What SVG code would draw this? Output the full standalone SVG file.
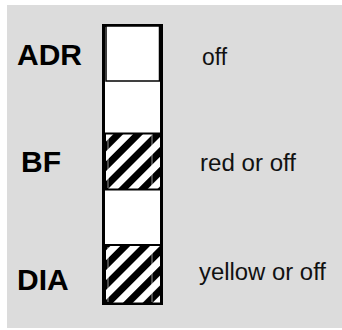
<svg xmlns="http://www.w3.org/2000/svg" width="342" height="330" viewBox="0 0 342 330">
<style>
.lbl{font-family:"Liberation Sans",Arial,sans-serif;font-weight:bold;font-size:30px;fill:#000}
.st{font-family:"Liberation Sans",Arial,sans-serif;font-size:23px;fill:#111}
.led{stroke:#000;stroke-width:2}
</style>
<defs>
<pattern id="hatch" patternUnits="userSpaceOnUse" width="14" height="14" patternTransform="rotate(45)">
<rect width="14" height="14" fill="#000"/>
<rect x="0" width="7" height="14" fill="#fff"/>
</pattern>
</defs>
<rect x="0" y="0" width="342" height="330" fill="#fff"/>
<rect x="7" y="5" width="335" height="323" fill="#dcdcdc"/>
<g id="column">
<rect x="103.5" y="25.5" width="58" height="278" fill="#fff" stroke="#000" stroke-width="3"/>
</g>
<g id="adr">
<rect x="106" y="26" width="53.5" height="55" fill="#fff" stroke="#000" stroke-width="1.5"/>
<rect x="159" y="25" width="3.5" height="56" fill="#000"/>
<text class="lbl" x="17" y="64.5">ADR</text>
<text class="st" x="202" y="65" textLength="25" lengthAdjust="spacingAndGlyphs">off</text>
</g>
<g id="bf">
<rect class="led" x="105" y="133.5" width="56" height="56" fill="url(#hatch)"/>
<line x1="108" y1="135" x2="108" y2="188" stroke="#fff" stroke-width="0.6"/>
<line x1="152" y1="135" x2="152" y2="188" stroke="#fff" stroke-width="0.6"/>
<text class="lbl" x="21" y="171.5">BF</text>
<text class="st" x="200" y="171" textLength="96" lengthAdjust="spacingAndGlyphs">red or off</text>
</g>
<g id="dia">
<rect class="led" x="105" y="245" width="56" height="58.5" fill="url(#hatch)"/>
<line x1="108" y1="247" x2="108" y2="302" stroke="#fff" stroke-width="0.6"/>
<line x1="152" y1="247" x2="152" y2="302" stroke="#fff" stroke-width="0.6"/>
<text class="lbl" x="17" y="289.5">DIA</text>
<text class="st" x="199" y="280" textLength="127" lengthAdjust="spacingAndGlyphs">yellow or off</text>
</g>
<g id="connectors"/>
</svg>
